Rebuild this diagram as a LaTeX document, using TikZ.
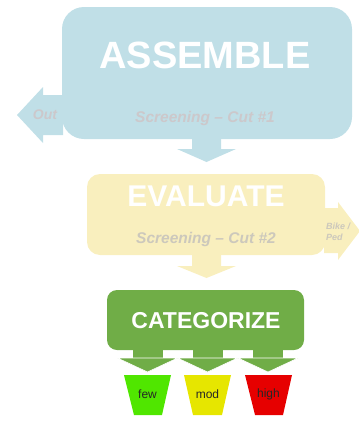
\documentclass[tikz,border=0pt]{standalone}
\usepackage{fontspec}
\setmainfont{Liberation Sans}
\definecolor{asmcol}{HTML}{C0DFE7}
\definecolor{evalcol}{HTML}{F9EFBE}
\definecolor{catcol}{HTML}{70AD47}
\definecolor{asmtxt}{HTML}{CCC8CB}
\definecolor{evaltxt}{HTML}{CCC8BC}
\definecolor{fewcol}{HTML}{50E600}
\definecolor{modcol}{HTML}{E6E600}
\definecolor{highcol}{HTML}{E60000}
\definecolor{bintxt}{HTML}{262626}
\tikzset{
  panel/.style={draw=none, inner sep=0pt},
  title/.style={text=white, font=\bfseries\fontsize{#1}{#1}\selectfont, inner sep=0pt},
  subtitle/.style={font=\bfseries\itshape\fontsize{15.5}{15.5}\selectfont, inner sep=0pt},
  sidetxt/.style={font=\bfseries\itshape\fontsize{#1}{#1}\selectfont, inner sep=0pt, align=left},
  bintext/.style={text=bintxt, font=\fontsize{12}{12}\selectfont, inner sep=0pt},
  catarrow/.style={fill=catcol, draw=white, line width=0.6pt, line join=miter}
}
\begin{document}
\begin{tikzpicture}[x=1pt,y=-1pt]
\useasboundingbox (0,0) rectangle (359,421);
% ASSEMBLE
\fill[asmcol] (63,95) -- (43,95) -- (43,87) -- (17,115) -- (43,143) -- (43,135) -- (63,135) -- cycle;
\node[panel, fill=asmcol, rounded corners=22pt, minimum width=290pt, minimum height=132pt] (assemble) at (207,73) {};
\fill[asmcol] (192,138) -- (221,138) -- (221,149) -- (236,149) -- (206.5,162) -- (177,149) -- (192,149) -- cycle;
\node[title=38] (asmtitle) at (205,55) {ASSEMBLE};
\node[subtitle, text=asmtxt] (asmsub) at (205,118) {Screening – Cut \#1};
\node[sidetxt=14, text=asmtxt] (out) at (45,115) {Out};
% EVALUATE
\fill[evalcol] (324,208) -- (338,208) -- (338,202) -- (360,231) -- (338,260) -- (338,253) -- (324,253) -- cycle;
\node[panel, fill=evalcol, rounded corners=13pt, minimum width=238pt, minimum height=81pt] (evaluate) at (206,214.5) {};
\fill[evalcol] (192,254) -- (221,254) -- (221,266) -- (236,266) -- (206.5,278) -- (177,266) -- (192,266) -- cycle;
\node[title=30] (evaltitle) at (206,196) {EVALUATE};
\node[subtitle, text=evaltxt] (evalsub) at (206,239) {Screening – Cut \#2};
\node[sidetxt=9, text=evaltxt, anchor=west, font=\bfseries\itshape\fontsize{9}{11}\selectfont] (bike) at (326,231.5) {Bike /\\Ped};
% CATEGORIZE
\node[panel, fill=catcol, rounded corners=10pt, minimum width=197pt, minimum height=60pt] (categorize) at (205.5,320) {};
\foreach \c in {147.5,207.5,268} {
  \fill[catcol] (\c-15,348) rectangle (\c+15,358.5);
  \filldraw[catarrow] (\c-30,358) -- (\c+30,358) -- (\c,372) -- cycle;
}
\node[title=23] (cattitle) at (206,321) {CATEGORIZE};
% bins
\fill[fewcol] (124,375) -- (171,375) -- (162,415) -- (134,415) -- cycle;
\fill[modcol] (184,375) -- (231,375) -- (222,415) -- (193,415) -- cycle;
\fill[highcol] (245,375) -- (292,375) -- (283,415) -- (255,415) -- cycle;
\node[bintext] (few) at (147.5,394) {few};
\node[bintext] (mod) at (207.5,394) {mod};
\node[bintext] (high) at (268.5,394) {high};
\end{tikzpicture}
\end{document}
